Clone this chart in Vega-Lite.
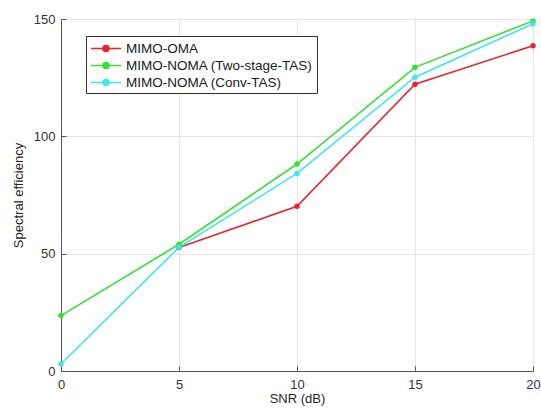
{
  "$schema": "https://vega.github.io/schema/vega-lite/v6.json",
  "width": 472,
  "height": 352,
  "autosize": "none",
  "padding": {"left": 61, "top": 19, "right": 8, "bottom": 41},
  "background": "white",
  "config": {
    "font": "Liberation Sans",
    "view": {"stroke": "#dcdcdc", "strokeWidth": 1},
    "axis": {
      "labelFont": "Liberation Sans",
      "titleFont": "Liberation Sans",
      "labelFontSize": 13,
      "titleFontSize": 13,
      "titleFontWeight": "normal",
      "labelColor": "#333333",
      "titleColor": "#262626",
      "domainColor": "#555555",
      "tickColor": "#555555",
      "gridColor": "#e4e4e4",
      "gridWidth": 1
    }
  },
  "data": {
    "values": [
      {"series": "MIMO-OMA", "snr": 5, "se": 52.6},
      {"series": "MIMO-OMA", "snr": 10, "se": 70.2},
      {"series": "MIMO-OMA", "snr": 15, "se": 122.2},
      {"series": "MIMO-OMA", "snr": 20, "se": 138.6},
      {"series": "MIMO-NOMA (Two-stage-TAS)", "snr": 0, "se": 23.6},
      {"series": "MIMO-NOMA (Two-stage-TAS)", "snr": 5, "se": 54.0},
      {"series": "MIMO-NOMA (Two-stage-TAS)", "snr": 10, "se": 88.2},
      {"series": "MIMO-NOMA (Two-stage-TAS)", "snr": 15, "se": 129.4},
      {"series": "MIMO-NOMA (Two-stage-TAS)", "snr": 20, "se": 149.2},
      {"series": "MIMO-NOMA (Conv-TAS)", "snr": 0, "se": 3.0},
      {"series": "MIMO-NOMA (Conv-TAS)", "snr": 5, "se": 52.7},
      {"series": "MIMO-NOMA (Conv-TAS)", "snr": 10, "se": 84.2},
      {"series": "MIMO-NOMA (Conv-TAS)", "snr": 15, "se": 125.2},
      {"series": "MIMO-NOMA (Conv-TAS)", "snr": 20, "se": 148.0}
    ]
  },
  "encoding": {
    "x": {
      "field": "snr",
      "type": "quantitative",
      "scale": {"domain": [0, 20], "nice": false, "zero": false},
      "axis": {
        "values": [0, 5, 10, 15, 20],
        "title": "SNR (dB)",
        "tickSize": -5,
        "labelPadding": 12,
        "titlePadding": 1,
        "labelFlush": false
      }
    },
    "y": {
      "field": "se",
      "type": "quantitative",
      "scale": {"domain": [0, 150], "nice": false},
      "axis": {
        "values": [0, 50, 100, 150],
        "title": "Spectral efficiency",
        "tickSize": -5,
        "labelPadding": 11,
        "titlePadding": 8
      }
    },
    "color": {
      "field": "series",
      "type": "nominal",
      "scale": {
        "domain": ["MIMO-OMA", "MIMO-NOMA (Two-stage-TAS)", "MIMO-NOMA (Conv-TAS)"],
        "range": ["#e8232a", "#33e033", "#3de8e8"]
      },
      "legend": {
        "title": null,
        "orient": "none",
        "legendX": 25,
        "legendY": 17,
        "direction": "vertical",
        "strokeColor": "#333333",
        "fillColor": "white",
        "padding": 4,
        "labelFont": "Liberation Sans",
        "labelFontSize": 13.5,
        "labelColor": "#1a1a1a",
        "labelOffset": 19,
        "labelLimit": 400,
        "rowPadding": 2,
        "symbolType": "M-1,0H3M0.6,0A0.4,0.4 0 1,1 1.4,0A0.4,0.4 0 1,1 0.6,0Z",
        "symbolSize": 225,
        "symbolStrokeWidth": 1.6,
        "symbolOpacity": 1,
        "encode": {
          "symbols": {
            "update": {
              "fill": {"field": "value", "scale": "color"},
              "stroke": {"field": "value", "scale": "color"}
            }
          }
        }
      }
    }
  },
  "layer": [
    {
      "mark": {"type": "line", "strokeWidth": 1.6}
    },
    {
      "mark": {"type": "circle", "size": 30, "opacity": 1}
    }
  ]
}
